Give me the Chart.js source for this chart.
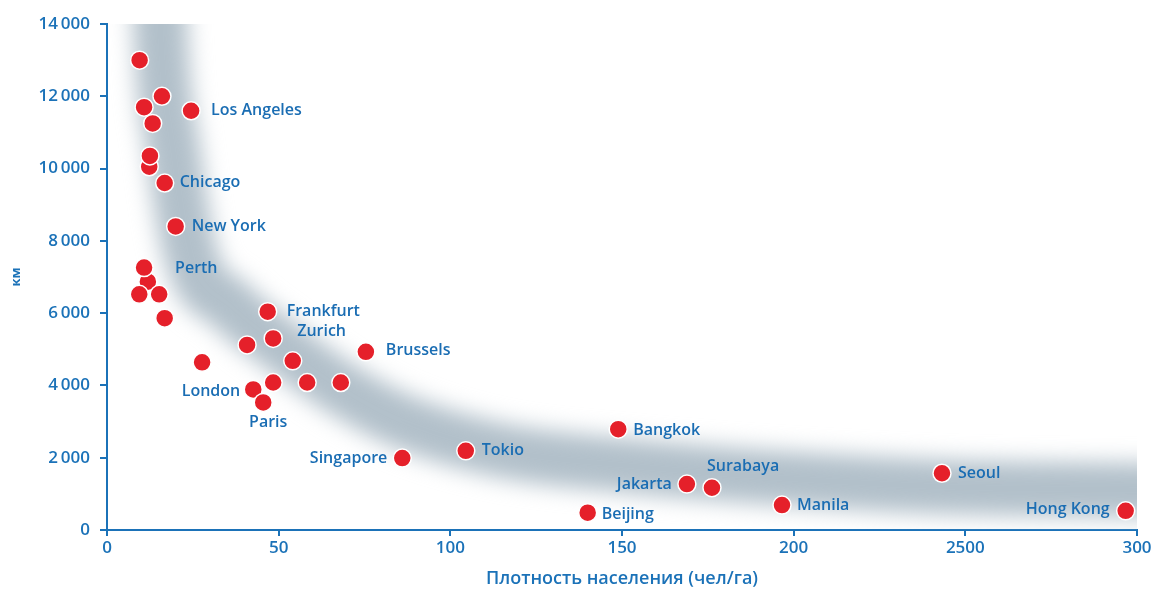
<!DOCTYPE html>
<html>
<head>
<meta charset="utf-8">
<script src="https://cdn.jsdelivr.net/npm/chart.js@4.4.1/dist/chart.umd.min.js"></script>
<style>
  html, body { margin: 0; padding: 0; background: #fff; }
  canvas { display: block; }
</style>
</head>
<body>
<canvas id="chart" width="1156" height="592"></canvas>
<script>
// city points: density (people/ha) vs. distance (km)
const cityNames = ['', '', '', 'Los Angeles', '', '', '', 'Chicago', 'New York',
  '', 'Perth', '', '', '', '', '', 'Frankfurt', 'Zurich', '', '', '', '', 'Brussels',
  'London', 'Paris', 'Singapore', 'Tokio', 'Bangkok', 'Beijing', 'Jakarta', 'Surabaya',
  'Manila', 'Seoul', 'Hong Kong'];
const density = [9.5, 10.8, 16, 24.5, 13.3, 12.3, 12.5, 16.8, 20,
  11.9, 10.8, 9.4, 15.2, 16.8, 27.7, 40.8, 46.8, 48.4, 54.1, 48.4, 58.3, 68.1, 75.4,
  42.6, 45.5, 86, 104.5, 148.9, 140, 168.9, 176.2,
  196.6, 243.2, 296.7];
const distance = [13000, 11700, 12000, 11600, 11250, 10050, 10350, 9600, 8400,
  6870, 7260, 6520, 6520, 5860, 4640, 5120, 6040, 5300, 4680, 4080, 4080, 4080, 4930,
  3890, 3530, 1990, 2190, 2790, 480, 1270, 1170,
  690, 1570, 530];

// centre line of the grey trend band
const bandX = [15.2, 15.5, 19.3, 24.3, 35.8, 50.4, 67.9, 85.3, 114.5, 153, 196, 246, 310];
const bandY = [15000, 14000, 10500, 7650, 6230, 5120, 3930, 3040, 2210, 1770, 1440, 1190, 1100];

const xTickLabels = {0: '0', 50: '50', 100: '100', 150: '150', 200: '200', 250: '2500', 300: '300'};

const blue = '#1b72b8';
const labelBlue = '#1a6db3';

// where each city name sits relative to its dot
const labelPlace = {
  'Los Angeles': {dx: 20, dy: 0, align: 'left'},
  'Chicago': {dx: 15, dy: -1, align: 'left'},
  'New York': {dx: 16, dy: 0, align: 'left'},
  'Perth': {dx: 31, dy: 1, align: 'left'},
  'Frankfurt': {dx: 19, dy: 0, align: 'left'},
  'Zurich': {dx: 24, dy: -7, align: 'left'},
  'Brussels': {dx: 20, dy: -1, align: 'left'},
  'London': {dx: -13, dy: 2, align: 'right'},
  'Paris': {dx: 5, dy: 20, align: 'center'},
  'Singapore': {dx: -15, dy: 0, align: 'right'},
  'Tokio': {dx: 16, dy: 0, align: 'left'},
  'Bangkok': {dx: 15, dy: 1, align: 'left'},
  'Beijing': {dx: 14, dy: 2, align: 'left'},
  'Jakarta': {dx: -15, dy: 0, align: 'right'},
  'Surabaya': {dx: -5, dy: -21, align: 'left'},
  'Manila': {dx: 15, dy: 0, align: 'left'},
  'Seoul': {dx: 16, dy: 0, align: 'left'},
  'Hong Kong': {dx: -16, dy: -1, align: 'right'}
};

const bandBlur = {
  id: 'bandBlur',
  beforeDatasetDraw(chart, args) {
    if (args.index === 0) chart.ctx.filter = 'blur(11px)';
  },
  afterDatasetDraw(chart, args) {
    if (args.index === 0) chart.ctx.filter = 'none';
  }
};

const cityLabels = {
  id: 'cityLabels',
  afterDatasetsDraw(chart) {
    const ctx = chart.ctx;
    const meta = chart.getDatasetMeta(1);
    ctx.save();
    ctx.font = '600 16px "Open Sans"';
    ctx.fillStyle = labelBlue;
    ctx.textBaseline = 'middle';
    meta.data.forEach((pt, i) => {
      const name = cityNames[i];
      if (!name) return;
      const p = labelPlace[name];
      ctx.textAlign = p.align;
      ctx.fillText(name, pt.x + p.dx, pt.y + p.dy);
    });
    ctx.restore();
  }
};

const ctx = document.getElementById('chart').getContext('2d');
new Chart(ctx, {
  type: 'scatter',
  data: {
    datasets: [{
      type: 'line',
      order: 1,
      data: bandX.map((x, i) => ({x: x, y: bandY[i]})),
      borderColor: '#b2c0ca',
      borderWidth: 54,
      borderCapStyle: 'butt',
      cubicInterpolationMode: 'monotone',
      pointRadius: 0,
      fill: false,
      clip: 0
    }, {
      order: 0,
      data: density.map((x, i) => ({x: x, y: distance[i]})),
      backgroundColor: '#e5202a',
      borderColor: '#ffffff',
      borderWidth: 1.5,
      pointRadius: 9,
      pointHoverRadius: 9
    }]
  },
  options: {
    responsive: false,
    animation: false,
    layout: {padding: {left: 0, right: 19, top: 24, bottom: 0}},
    plugins: {legend: {display: false}, tooltip: {enabled: false}},
    scales: {
      x: {
        type: 'linear',
        min: 0,
        max: 300,
        afterFit(scale) { scale.height = 62; },
        afterBuildTicks(scale) {
          scale.ticks = Object.keys(xTickLabels).map(v => ({value: +v}));
        },
        ticks: {
          color: blue,
          font: {family: 'Open Sans', size: 17, weight: '600'},
          padding: 2,
          maxRotation: 0,
          callback: v => xTickLabels[v]
        },
        grid: {display: true, drawOnChartArea: false, drawTicks: true, tickLength: 6, color: blue, lineWidth: 2},
        border: {display: true, color: blue, width: 2},
        title: {
          display: true,
          text: 'Плотность населения (чел/га)',
          color: blue,
          font: {family: 'Open Sans', size: 18, weight: '600'},
          padding: {top: 0, bottom: 2}
        }
      },
      y: {
        min: 0,
        max: 14000,
        afterFit(scale) { scale.width = 107; },
        ticks: {
          stepSize: 2000,
          color: blue,
          font: {family: 'Open Sans', size: 17, weight: '600'},
          padding: 10,
          callback: v => v >= 1000 ? Math.floor(v / 1000) + '\u2009' + String(v % 1000).padStart(3, '0') : String(v)
        },
        grid: {display: true, drawOnChartArea: false, drawTicks: true, tickLength: 7, color: blue, lineWidth: 2},
        border: {display: true, color: blue, width: 2},
        title: {
          display: true,
          text: 'км',
          color: blue,
          font: {family: 'Open Sans', size: 13, weight: 'bold'},
          padding: {top: 8, bottom: 0}
        }
      }
    }
  },
  plugins: [bandBlur, cityLabels]
});
</script>
</body>
</html>
